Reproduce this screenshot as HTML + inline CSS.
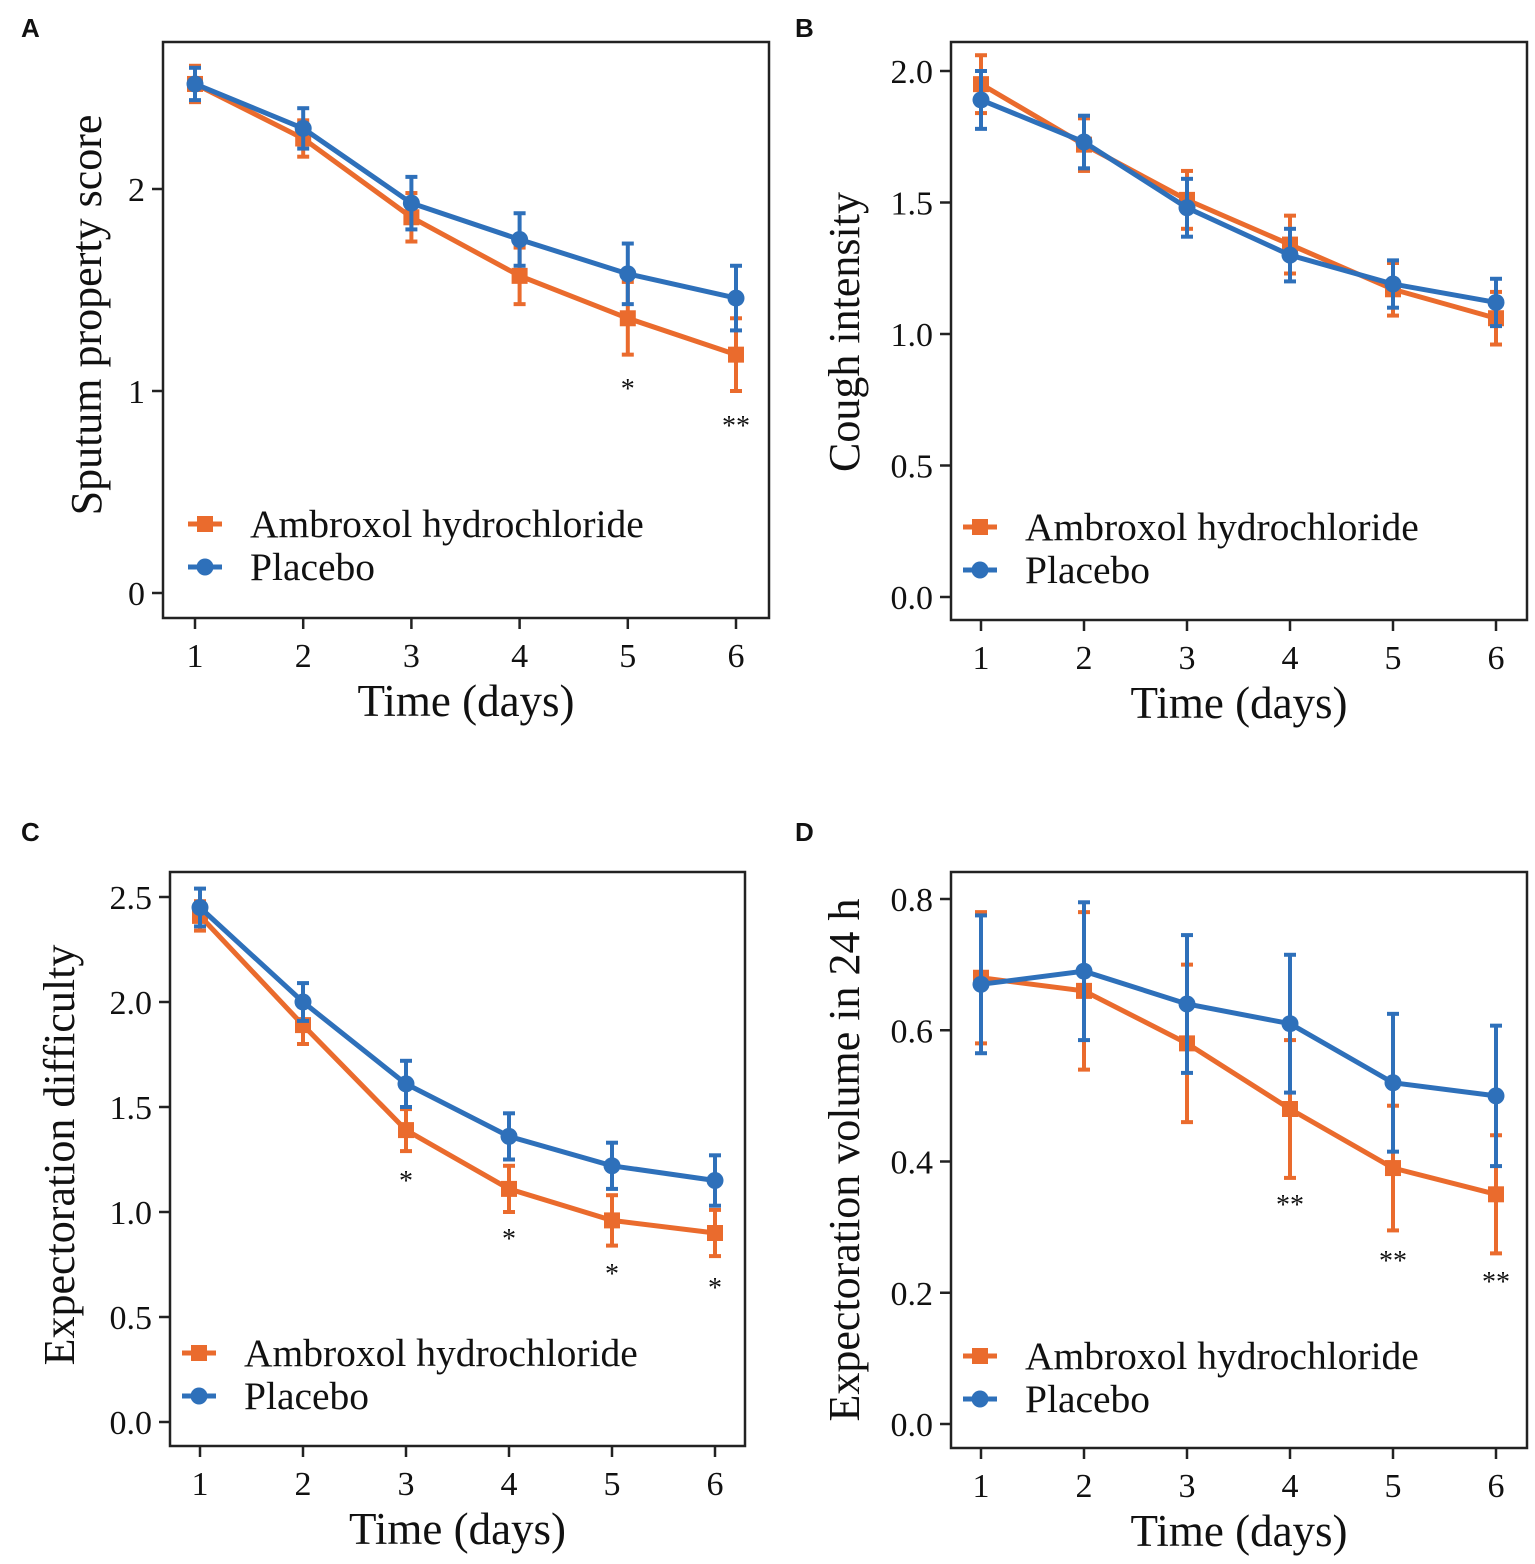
<!DOCTYPE html>
<html><head><meta charset="utf-8"><style>
html,body{margin:0;padding:0;background:#fff;}
svg{display:block;}
text{font-family:"Liberation Serif",serif;fill:#111;}
.lbl{font-family:"Liberation Sans",sans-serif;font-weight:bold;font-size:26px;}
</style></head><body>
<svg id="s" width="1535" height="1564" xmlns="http://www.w3.org/2000/svg"></svg>
<script>
const O='#EA6B2D',B='#2E70BA';
let h='';
function P(c){
 const sy=v=>c.y0+(c.y1-c.y0)*(v-c.v0)/(c.v1-c.v0);
 const sx=d=>c.x1+(c.x6-c.x1)*(d-1)/5;
 h+=`<rect x="${c.bx0}" y="${c.by0}" width="${c.bx1-c.bx0}" height="${c.by1-c.by0}" fill="none" stroke="#222" stroke-width="2.5"/>`;
 c.ticks.forEach(t=>{const y=sy(t[0]);h+=`<line x1="${c.bx0-11}" x2="${c.bx0}" y1="${y}" y2="${y}" stroke="#222" stroke-width="2.5"/><text x="${c.bx0-18}" y="${y+12}" font-size="34" text-anchor="end">${t[1]}</text>`;});
 for(let d=1;d<=6;d++){const x=sx(d);h+=`<line x1="${x}" x2="${x}" y1="${c.by1}" y2="${c.by1+11}" stroke="#222" stroke-width="2.5"/><text x="${x}" y="${c.by1+49}" font-size="34" text-anchor="middle">${d}</text>`;}
 h+=`<text x="${(c.bx0+c.bx1)/2}" y="${c.by1+98}" font-size="45" text-anchor="middle">Time (days)</text>`;
 h+=`<text transform="translate(${c.ylx},${c.yly}) rotate(-90)" font-size="44" text-anchor="middle">${c.yl}</text>`;
 [[c.o,c.oe,O,0],[c.b,c.be,B,1]].forEach(([v,e,col,circ])=>{
  let pts=v.map((a,i)=>sx(i+1)+','+sy(a)).join(' ');
  h+=`<polyline points="${pts}" fill="none" stroke="${col}" stroke-width="5"/>`;
  v.forEach((a,i)=>{const x=sx(i+1),t=sy(a+e[i]),b=sy(a-e[i]);
   h+=`<line x1="${x}" x2="${x}" y1="${t}" y2="${b}" stroke="${col}" stroke-width="4"/><line x1="${x-6}" x2="${x+6}" y1="${t}" y2="${t}" stroke="${col}" stroke-width="4"/><line x1="${x-6}" x2="${x+6}" y1="${b}" y2="${b}" stroke="${col}" stroke-width="4"/>`;
   h+=circ?`<circle cx="${x}" cy="${sy(a)}" r="8.5" fill="${col}"/>`:`<rect x="${x-8}" y="${sy(a)-8}" width="16" height="16" fill="${col}"/>`;});
 });
 const L=c.leg;
 h+=`<line x1="${L[0]}" x2="${L[0]+34}" y1="${L[1]}" y2="${L[1]}" stroke="${O}" stroke-width="5"/><rect x="${L[0]+9}" y="${L[1]-8}" width="16" height="16" fill="${O}"/>`;
 h+=`<line x1="${L[0]}" x2="${L[0]+34}" y1="${L[1]+43}" y2="${L[1]+43}" stroke="${B}" stroke-width="5"/><circle cx="${L[0]+17}" cy="${L[1]+43}" r="8.5" fill="${B}"/>`;
 h+=`<text x="${L[0]+62}" y="${L[1]+13}" font-size="39.5">Ambroxol hydrochloride</text><text x="${L[0]+62}" y="${L[1]+56}" font-size="39.5">Placebo</text>`;
 c.st.forEach(s=>{h+=`<text x="${sx(s[0])}" y="${s[1]+14}" font-size="28" text-anchor="middle">${s[2]}</text>`;});
}
P({bx0:163,bx1:769,by0:42,by1:618,v0:0,v1:2,y0:593,y1:189,x1:195,x6:736,
 ticks:[[0,'0'],[1,'1'],[2,'2']],yl:'Sputum property score',ylx:101,yly:315,
 o:[2.52,2.25,1.86,1.57,1.36,1.18],oe:[0.09,0.09,0.12,0.14,0.18,0.18],
 b:[2.52,2.3,1.93,1.75,1.58,1.46],be:[0.08,0.1,0.13,0.13,0.15,0.16],
 leg:[188,524],st:[[5,384,'*'],[6,421,'**']]});
P({bx0:951,bx1:1527,by0:42,by1:620,v0:0,v1:2,y0:597,y1:71,x1:981,x6:1496,
 ticks:[[0,'0.0'],[0.5,'0.5'],[1,'1.0'],[1.5,'1.5'],[2,'2.0']],yl:'Cough intensity',ylx:859,yly:332,
 o:[1.95,1.72,1.51,1.34,1.17,1.06],oe:[0.11,0.1,0.11,0.11,0.1,0.1],
 b:[1.89,1.73,1.48,1.30,1.19,1.12],be:[0.11,0.1,0.11,0.1,0.09,0.09],
 leg:[963,527],st:[]});
P({bx0:170,bx1:745,by0:872,by1:1446,v0:0,v1:2.5,y0:1422,y1:897,x1:200,x6:715,
 ticks:[[0,'0.0'],[0.5,'0.5'],[1,'1.0'],[1.5,'1.5'],[2,'2.0'],[2.5,'2.5']],yl:'Expectoration difficulty',ylx:74,yly:1155,
 o:[2.41,1.89,1.39,1.11,0.96,0.90],oe:[0.07,0.09,0.1,0.11,0.12,0.11],
 b:[2.45,2.0,1.61,1.36,1.22,1.15],be:[0.09,0.09,0.11,0.11,0.11,0.12],
 leg:[182,1353],st:[[3,1176,'*'],[4,1234,'*'],[5,1269,'*'],[6,1283,'*']]});
P({bx0:951,bx1:1527,by0:872,by1:1448,v0:0,v1:0.8,y0:1424,y1:899,x1:981,x6:1496,
 ticks:[[0,'0.0'],[0.2,'0.2'],[0.4,'0.4'],[0.6,'0.6'],[0.8,'0.8']],yl:'Expectoration volume in 24 h',ylx:859,yly:1160,
 o:[0.68,0.66,0.58,0.48,0.39,0.35],oe:[0.1,0.12,0.12,0.105,0.095,0.09],
 b:[0.67,0.69,0.64,0.61,0.52,0.50],be:[0.105,0.105,0.105,0.105,0.105,0.107],
 leg:[963,1356],st:[[4,1200,'**'],[5,1256,'**'],[6,1277,'**']]});
h+=`<text class="lbl" x="21" y="37">A</text><text class="lbl" x="795" y="37">B</text><text class="lbl" x="21" y="841">C</text><text class="lbl" x="795" y="841">D</text>`;
document.getElementById('s').innerHTML=h;
</script>
</body></html>
